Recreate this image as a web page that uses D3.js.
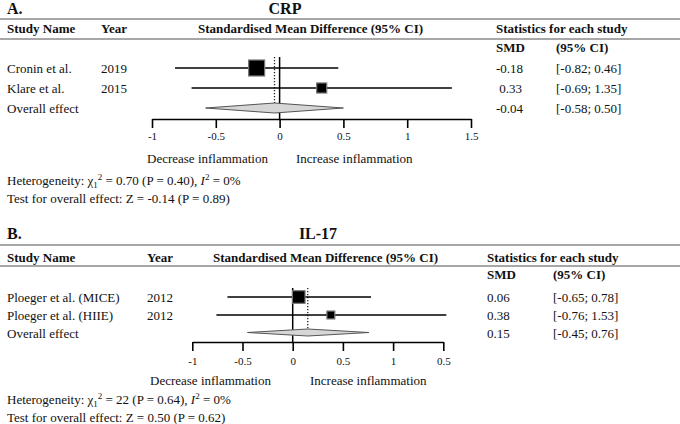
<!DOCTYPE html>
<html><head><meta charset="utf-8">
<script src="https://cdn.jsdelivr.net/npm/d3@7"></script>
<style>
html,body{margin:0;padding:0;background:#fff;}
svg text{font-family:"Liberation Serif","Times New Roman",serif;fill:#111;white-space:pre;}
</style></head>
<body><svg id="c" width="680" height="424"></svg>
<script>
// ---------- DATA ----------
const crpStudies = ["Cronin et al.", "Klare et al."];
const crpYears = ["2019", "2015"];
const crpSMD = [-0.18, 0.33];
const crpLo = [-0.82, -0.69];
const crpHi = [0.46, 1.35];
const crpWeight = [71.7, 28.3];
const crpSMDText = ["-0.18", " 0.33"];
const crpCIText = ["[-0.82; 0.46]", "[-0.69; 1.35]"];
const crpOverall = {smd: -0.04, lo: -0.58, hi: 0.50, smdText: "-0.04", ciText: "[-0.58; 0.50]"};
const crpTicks = [-1, -0.5, 0, 0.5, 1, 1.5];
const crpTickLabels = ["-1", "-0.5", "0", "0.5", "1", "1.5"];
const crpHet = ["0.70", "0.40", "0%"];
const crpTest = "Test for overall effect: Z = -0.14 (P = 0.89)";

const il17Studies = ["Ploeger et al. (MICE)", "Ploeger et al. (HIIE)"];
const il17Years = ["2012", "2012"];
const il17SMD = [0.06, 0.38];
const il17Lo = [-0.65, -0.76];
const il17Hi = [0.78, 1.53];
const il17Weight = [71.9, 28.1];
const il17SMDText = ["0.06", "0.38"];
const il17CIText = ["[-0.65; 0.78]", "[-0.76; 1.53]"];
const il17Overall = {smd: 0.15, lo: -0.45, hi: 0.76, smdText: "0.15", ciText: "[-0.45; 0.76]"};
const il17Ticks = [-1, -0.5, 0, 0.5, 1, 1.5];
const il17TickLabels = ["-1", "-0.5", "0", "0.5", "1", "0.5"];
const il17Het = ["22", "0.64", "0%"];
const il17Test = "Test for overall effect: Z = 0.50 (P = 0.62)";

// ---------- LAYOUT ----------
const svg = d3.select("#c");

function panel(cfg, L) {
  const g = svg.append("g");
  const x = d3.scaleLinear().domain([-1, 1.5]).range([L.x0, L.x1]);
  const pxPerUnit = (L.x1 - L.x0) / 2.5;
  const side = w => 0.0148 * pxPerUnit * Math.sqrt(w);

  // panel letter + title
  g.append("text").attr("x", 7).attr("y", L.letterY).attr("font-size", 16).attr("font-weight", "bold").text(cfg.letter);
  g.append("text").attr("x", L.titleX).attr("y", L.letterY).attr("font-size", 16).attr("font-weight", "bold").attr("text-anchor", "middle").text(cfg.title);

  // rules
  [L.rule1, L.rule2].forEach(y => g.append("line").attr("x1", 0).attr("x2", 680).attr("y1", y).attr("y2", y).attr("stroke", "#8a8a8a").attr("stroke-width", 1.5));

  // header
  const hdr = [["Study Name", 7], ["Year", L.colYear], ["Standardised Mean Difference (95% CI)", L.colPlotHdr], ["Statistics for each study", L.colSMD]];
  hdr.forEach(([t, xx]) => g.append("text").attr("x", xx).attr("y", L.hdrY).attr("font-size", 13).attr("font-weight", "bold").text(t));
  g.append("text").attr("x", L.colSMD).attr("y", L.subY).attr("font-size", 13).attr("font-weight", "bold").text("SMD");
  g.append("text").attr("x", L.colCI).attr("y", L.subY).attr("font-size", 13).attr("font-weight", "bold").text("(95% CI)");

  const rows = cfg.studies.map((s, i) => ({name: s, year: cfg.years[i], smd: cfg.smd[i], lo: cfg.lo[i], hi: cfg.hi[i], w: cfg.weight[i], smdT: cfg.smdText[i], ciT: cfg.ciText[i], y: L.rowY[i]}));

  // text columns
  rows.forEach(r => {
    g.append("text").attr("x", 7).attr("y", r.y + 5).attr("font-size", 13).text(r.name);
    g.append("text").attr("x", L.colYear).attr("y", r.y + 5).attr("font-size", 13).text(r.year);
    g.append("text").attr("x", L.colSMD).attr("y", r.y + 5).attr("font-size", 13).text(r.smdT);
    g.append("text").attr("x", L.colCI).attr("y", r.y + 5).attr("font-size", 13).text(r.ciT);
  });
  const o = cfg.overall;
  g.append("text").attr("x", 7).attr("y", L.overallY + 5).attr("font-size", 13).text("Overall effect");
  g.append("text").attr("x", L.colSMD).attr("y", L.overallY + 5).attr("font-size", 13).text(o.smdText);
  g.append("text").attr("x", L.colCI).attr("y", L.overallY + 5).attr("font-size", 13).text(o.ciText);

  // zero line
  g.append("line").attr("x1", x(0)).attr("x2", x(0)).attr("y1", L.zeroTop).attr("y2", L.axisY).attr("stroke", "#000").attr("stroke-width", 1.5);
  // dotted overall line
  g.append("line").attr("x1", x(o.smd)).attr("x2", x(o.smd)).attr("y1", L.zeroTop).attr("y2", L.overallY - L.diaH / 2)
    .attr("stroke", "#222").attr("stroke-width", 1.3).attr("stroke-dasharray", "1.3,1.7");

  // CI lines
  g.selectAll(".ci").data(rows).join("line").attr("class", "ci")
    .attr("x1", d => x(d.lo)).attr("x2", d => x(d.hi)).attr("y1", d => d.y).attr("y2", d => d.y)
    .attr("stroke", "#000").attr("stroke-width", 1.5);
  // squares
  g.selectAll(".sq").data(rows).join("rect").attr("class", "sq")
    .attr("x", d => x(d.smd) - side(d.w) / 2).attr("y", d => d.y - side(d.w) / 2)
    .attr("width", d => side(d.w)).attr("height", d => side(d.w))
    .attr("fill", "#000").attr("stroke", "#777").attr("stroke-width", 1.2);

  // diamond
  const dy = L.overallY, hh = L.diaH / 2;
  g.append("path").attr("d", `M${x(o.lo)},${dy} L${x(o.smd)},${dy - hh} L${x(o.hi)},${dy} L${x(o.smd)},${dy + hh} Z`)
    .attr("fill", "#d6d6d6").attr("stroke", "#555").attr("stroke-width", 1);

  // axis
  const ax = g.append("g").attr("transform", `translate(0,${L.axisY})`)
    .call(d3.axisBottom(x).tickValues(cfg.ticks).tickSize(L.tickLen).tickSizeOuter(0).tickFormat((d, i) => cfg.tickLabels[i]));
  ax.select(".domain").attr("stroke", "#000").attr("stroke-width", 1.6);
  ax.selectAll(".tick line").attr("stroke", "#000").attr("stroke-width", 1.6);
  ax.selectAll(".tick text").attr("font-family", "'Liberation Serif',serif").attr("font-size", 11).attr("fill", "#111")
    .attr("dy", 0).attr("y", L.tickLabY - L.axisY);

  // direction labels
  g.append("text").attr("x", L.decX).attr("y", L.dirY).attr("font-size", 13).text("Decrease inflammation");
  g.append("text").attr("x", L.incX).attr("y", L.dirY).attr("font-size", 13).text("Increase inflammation");

  // heterogeneity
  const h = g.append("text").attr("x", 7).attr("y", L.hetY).attr("font-size", 13);
  h.append("tspan").text("Heterogeneity: χ");
  h.append("tspan").attr("font-size", 9).attr("dy", 3).text("1");
  h.append("tspan").attr("font-size", 9).attr("dy", -8).text("2");
  h.append("tspan").attr("dy", 5).text(` = ${cfg.het[0]} (P = ${cfg.het[1]}), `);
  h.append("tspan").attr("font-style", "italic").text("I");
  h.append("tspan").attr("font-size", 9).attr("dy", -5).text("2");
  h.append("tspan").attr("dy", 5).text(` = ${cfg.het[2]}`);
  g.append("text").attr("x", 7).attr("y", L.testY).attr("font-size", 13).text(cfg.test);
}

panel({letter: "A.", title: "CRP", studies: crpStudies, years: crpYears, smd: crpSMD, lo: crpLo, hi: crpHi, weight: crpWeight,
       smdText: crpSMDText, ciText: crpCIText, overall: crpOverall, ticks: crpTicks, tickLabels: crpTickLabels, het: crpHet, test: crpTest},
      {x0: 152, x1: 471, letterY: 14, titleX: 285, rule1: 19, hdrY: 33, rule2: 39, subY: 52,
       colYear: 101, colPlotHdr: 198, colSMD: 496, colCI: 556,
       rowY: [68, 88], overallY: 108, diaH: 10, zeroTop: 57, axisY: 119, tickLen: 9, tickLabY: 140,
       decX: 147, incX: 296, dirY: 163, hetY: 185, testY: 203});

panel({letter: "B.", title: "IL-17", studies: il17Studies, years: il17Years, smd: il17SMD, lo: il17Lo, hi: il17Hi, weight: il17Weight,
       smdText: il17SMDText, ciText: il17CIText, overall: il17Overall, ticks: il17Ticks, tickLabels: il17TickLabels, het: il17Het, test: il17Test},
      {x0: 192.3, x1: 443.3, letterY: 239, titleX: 318, rule1: 245, hdrY: 262, rule2: 266, subY: 279,
       colYear: 147, colPlotHdr: 213, colSMD: 487, colCI: 553,
       rowY: [297, 315], overallY: 332.5, diaH: 7, zeroTop: 288, axisY: 342, tickLen: 9, tickLabY: 365,
       decX: 150, incX: 310, dirY: 385, hetY: 404, testY: 422});
</script></body></html>
